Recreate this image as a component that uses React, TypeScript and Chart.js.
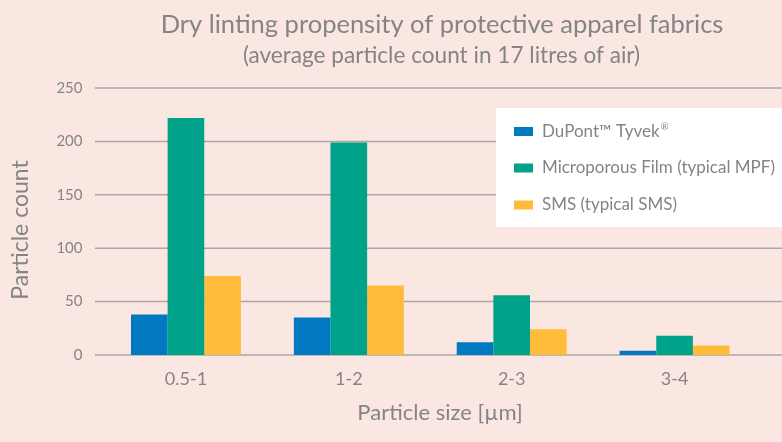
import React, { useEffect, useRef } from "react";
import { Chart, registerables } from "chart.js";

Chart.register(...registerables);

const titleText = "Dry linting propensity of protective apparel fabrics";
const subtitleText = "(average particle count in 17 litres of air)";
const categories = ["0.5-1", "1-2", "2-3", "3-4"];
const seriesNames = ["DuPont™ Tyvek", "Microporous Film (typical MPF)", "SMS (typical SMS)"];
const seriesSuperscripts = ["®", "", ""];
const tyvekValues = [38, 35, 12, 4];
const mpfValues = [222, 199, 56, 18];
const smsValues = [74, 65, 24, 9];
const seriesColors = ["#0079C1", "#00A28A", "#FFBC3A"];
const yTicks = [0, 50, 100, 150, 200, 250];
const xTitle = "Particle size [µm]";
const yTitle = "Particle count";

const FONT = "Lato, 'Open Sans', sans-serif";
const TEXT = "#848486";
const GRID = "#a9a7a7";
const BG = "#FBE7E2";

const decorPlugin = {
  id: "decor",
  beforeDraw(chart: any) {
    const { ctx, width, height } = chart;
    ctx.save();
    ctx.fillStyle = BG;
    ctx.fillRect(0, 0, width, height);
    ctx.fillStyle = TEXT;
    ctx.textAlign = "center";
    ctx.textBaseline = "alphabetic";
    ctx.font = `25.5px ${FONT}`;
    ctx.fillText(titleText, 442, 33);
    ctx.font = `22.6px ${FONT}`;
    ctx.fillText(subtitleText, 441.5, 63);
    // axis titles
    ctx.font = `22px ${FONT}`;
    ctx.fillText(xTitle, 440, 420);
    ctx.translate(28, 230);
    ctx.rotate(-Math.PI / 2);
    ctx.font = `23px ${FONT}`;
    ctx.fillText(yTitle, 0, 0);
    ctx.restore();
  },
  beforeDatasetsDraw(chart: any) {
    const { ctx } = chart;
    const y = chart.scales.y;
    ctx.save();
    ctx.strokeStyle = GRID;
    ctx.lineWidth = 1.5;
    yTicks.forEach((v) => {
      const py = y.getPixelForValue(v);
      ctx.beginPath();
      ctx.moveTo(95, py);
      ctx.lineTo(chart.width, py);
      ctx.stroke();
    });
    ctx.restore();
  },
  afterDatasetsDraw(chart: any) {
    const { ctx } = chart;
    ctx.save();
    ctx.fillStyle = "#ffffff";
    ctx.fillRect(496, 108, chart.width - 496, 119);
    ctx.textBaseline = "middle";
    ctx.textAlign = "left";
    const ys = [131.5, 168, 205];
    seriesNames.forEach((name, i) => {
      ctx.fillStyle = seriesColors[i];
      ctx.fillRect(514, ys[i] - 4.5, 19, 9);
      ctx.fillStyle = TEXT;
      ctx.font = `17px ${FONT}`;
      ctx.fillText(name, 542, ys[i]);
      if (seriesSuperscripts[i]) {
        const w = ctx.measureText(name).width;
        ctx.font = `10px ${FONT}`;
        ctx.fillText(seriesSuperscripts[i], 542 + w + 1, ys[i] - 5);
      }
    });
    ctx.restore();
  },
};

export default function App() {
  const ref = useRef<HTMLCanvasElement>(null);
  useEffect(() => {
    document.body.style.margin = "0";
    const canvas = ref.current!;
    const chart = new Chart(canvas, {
      type: "bar",
      data: {
        labels: categories,
        datasets: [tyvekValues, mpfValues, smsValues].map((d, i) => ({
          label: seriesNames[i] + seriesSuperscripts[i],
          data: d,
          backgroundColor: seriesColors[i],
          borderWidth: 0,
          barPercentage: 1,
          categoryPercentage: 0.675,
        })),
      },
      options: {
        responsive: false,
        animation: false,
        devicePixelRatio: 1,
        layout: { padding: { top: 88, right: 26, left: 0, bottom: 0 } },
        plugins: {
          legend: { display: false },
          title: { display: false },
          tooltip: { enabled: false },
        },
        scales: {
          x: {
            grid: { display: false, drawTicks: false },
            border: { display: false },
            ticks: { color: TEXT, font: { family: FONT, size: 18 }, padding: 13 },
            afterFit: (s: any) => {
              s.height = 87;
            },
          },
          y: {
            min: 0,
            max: 250,
            grid: { display: false, drawTicks: false },
            border: { display: false },
            ticks: {
              stepSize: 50,
              color: TEXT,
              font: { family: FONT, size: 15 },
              padding: 22,
            },
            afterFit: (s: any) => {
              s.width = 104.5;
            },
          },
        },
      },
      plugins: [decorPlugin],
    });
    return () => chart.destroy();
  }, []);
  return (
    <div style={{ width: 782, height: 442, background: BG }}>
      <canvas ref={ref} width={782} height={442} style={{ display: "block" }} />
    </div>
  );
}
